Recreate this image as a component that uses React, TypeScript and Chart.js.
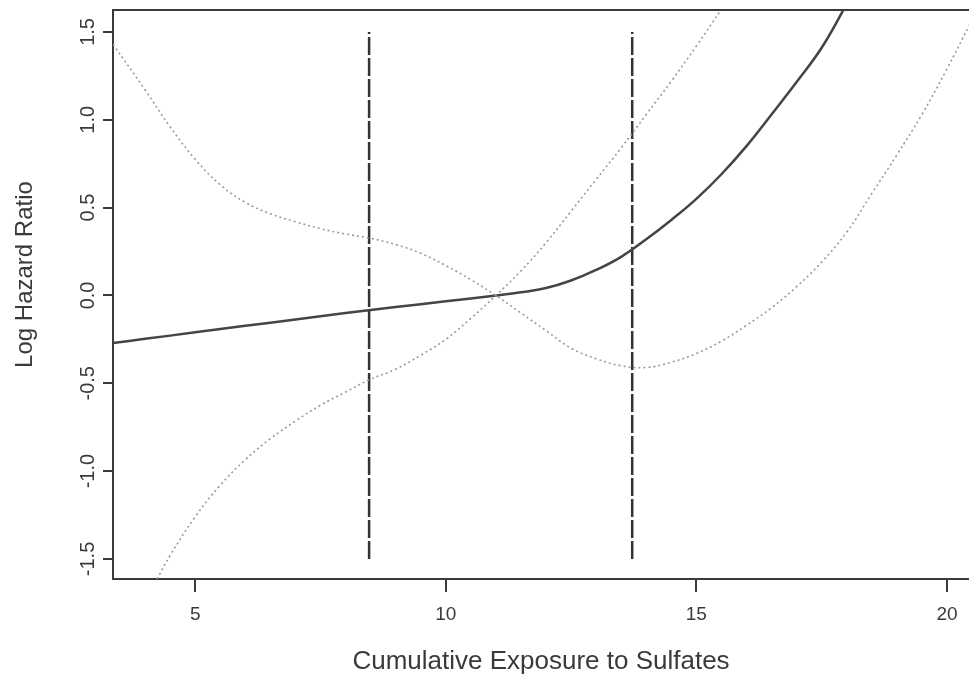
import React, { useEffect, useRef } from "react";
import { Chart, registerables } from "chart.js";

Chart.register(...registerables);

const xTicks = [5, 10, 15, 20];
const yTicks = [-1.5, -1.0, -0.5, 0.0, 0.5, 1.0, 1.5];

const fitX = [3.36, 4, 5, 6, 7, 8, 9, 10, 11, 11.5, 12, 12.5, 13, 13.5, 14, 14.5, 15, 15.5, 16, 16.5, 17, 17.5, 18, 18.3];
const fitY = [-0.27, -0.247, -0.21, -0.173, -0.137, -0.1, -0.066, -0.033, 0.0, 0.018, 0.042, 0.085, 0.145, 0.22, 0.32, 0.43, 0.55, 0.69, 0.85, 1.03, 1.215, 1.41, 1.66, 1.82];

const upperX = [4.1, 4.24, 4.5, 5, 5.5, 6, 6.5, 7, 7.5, 8, 8.47, 9, 9.5, 10, 10.5, 11, 11.5, 12, 12.5, 13, 13.5, 14, 14.5, 15, 15.5, 15.7];
const upperY = [-1.69, -1.614, -1.48, -1.26, -1.08, -0.935, -0.815, -0.715, -0.625, -0.55, -0.48, -0.42, -0.34, -0.25, -0.13, 0.0, 0.14, 0.3, 0.48, 0.66, 0.84, 1.03, 1.22, 1.42, 1.63, 1.72];

const lowerX = [3.36, 4, 4.5, 5, 5.5, 6, 6.5, 7, 7.5, 8, 8.47, 9, 9.5, 10, 10.5, 11, 11.5, 12, 12.5, 13, 13.5, 14, 14.5, 15, 15.5, 16, 16.5, 17, 17.5, 18, 18.5, 19, 19.5, 20, 20.45];
const lowerY = [1.43, 1.17, 0.96, 0.775, 0.63, 0.53, 0.465, 0.42, 0.38, 0.35, 0.327, 0.29, 0.24, 0.17, 0.09, 0.0, -0.1, -0.2, -0.3, -0.36, -0.4, -0.41, -0.38, -0.33, -0.26, -0.17, -0.07, 0.05, 0.19, 0.36, 0.58, 0.8, 1.03, 1.29, 1.54];

const refLinesX = [8.47, 13.72];
const refLineSpan = [-1.5, 1.5];

const xMin = 3.36;
const xMax = 20.44;
const yMin = -1.614;
const yMax = 1.625;

const toPts = (xs: number[], ys: number[]) => xs.map((x, i) => ({ x, y: ys[i] }));

const axisColor = "#3a3a3a";
const fontFamily = "'Liberation Sans', Arial, sans-serif";

const framePlugin = {
  id: "frameTop",
  afterDraw(chart: any) {
    const { ctx, chartArea } = chart;
    ctx.save();
    ctx.strokeStyle = axisColor;
    ctx.lineWidth = 2;
    ctx.beginPath();
    ctx.moveTo(chartArea.left, chartArea.top);
    ctx.lineTo(chartArea.right, chartArea.top);
    ctx.stroke();
    ctx.restore();
  },
};

export default function App() {
  const ref = useRef<HTMLCanvasElement | null>(null);
  useEffect(() => {
    if (!ref.current) return;
    const chart = new Chart(ref.current, {
      type: "line",
      data: {
        datasets: [
          {
            label: "upper",
            data: toPts(upperX, upperY),
            borderColor: "#9a9a9a",
            borderWidth: 1.6,
            borderDash: [2, 3],
            pointRadius: 0,
            tension: 0.4,
          },
          {
            label: "lower",
            data: toPts(lowerX, lowerY),
            borderColor: "#9a9a9a",
            borderWidth: 1.6,
            borderDash: [2, 3],
            pointRadius: 0,
            tension: 0.4,
          },
          {
            label: "fit",
            data: toPts(fitX, fitY),
            borderColor: "#444444",
            borderWidth: 2.5,
            pointRadius: 0,
            tension: 0.4,
          },
          ...refLinesX.map((x) => ({
            label: "ref" + x,
            data: refLineSpan.map((y) => ({ x, y })),
            borderColor: "#333333",
            borderWidth: 2.5,
            borderDash: [18, 3],
            pointRadius: 0,
          })),
        ],
      },
      options: {
        responsive: false,
        animation: false,
        layout: { padding: { top: 10, right: 0, bottom: 0, left: 0 } },
        plugins: { legend: { display: false }, tooltip: { enabled: false } },
        scales: {
          x: {
            type: "linear",
            min: xMin,
            max: xMax,
            afterBuildTicks: (s: any) => {
              s.ticks = xTicks.map((v) => ({ value: v }));
            },
            afterFit: (s: any) => {
              s.height = 100;
            },
            ticks: {
              color: axisColor,
              font: { family: fontFamily, size: 19 },
              padding: 11,
              maxRotation: 0,
              callback: (v: any) => String(v),
            },
            grid: {
              drawOnChartArea: false,
              drawTicks: true,
              tickLength: 13,
              color: axisColor,
              lineWidth: 2,
            },
            border: { display: true, color: axisColor, width: 2 },
            title: {
              display: true,
              text: "Cumulative Exposure to Sulfates",
              color: axisColor,
              font: { family: fontFamily, size: 26 },
              padding: { top: 0, bottom: 2 },
            },
          },
          y: {
            type: "linear",
            min: yMin,
            max: yMax,
            afterBuildTicks: (s: any) => {
              s.ticks = yTicks.map((v) => ({ value: v }));
            },
            afterFit: (s: any) => {
              s.width = 113;
            },
            ticks: {
              color: axisColor,
              font: { family: fontFamily, size: 20 },
              padding: -3,
              minRotation: 90,
              maxRotation: 90,
              crossAlign: "center",
              callback: (v: any) => Number(v).toFixed(1),
            },
            grid: {
              drawOnChartArea: false,
              drawTicks: true,
              tickLength: 10,
              color: axisColor,
              lineWidth: 2,
            },
            border: { display: true, color: axisColor, width: 2 },
            title: {
              display: true,
              text: "      Log Hazard Ratio",
              color: axisColor,
              font: { family: fontFamily, size: 24 },
              padding: { top: 11, bottom: 0 },
            },
          },
        },
      },
      plugins: [framePlugin],
    } as any);
    return () => chart.destroy();
  }, []);
  return (
    <div style={{ position: "absolute", left: 0, top: 0, width: 969, height: 679, background: "#fff" }}>
      <canvas ref={ref} width={969} height={679} style={{ display: "block" }} />
    </div>
  );
}
